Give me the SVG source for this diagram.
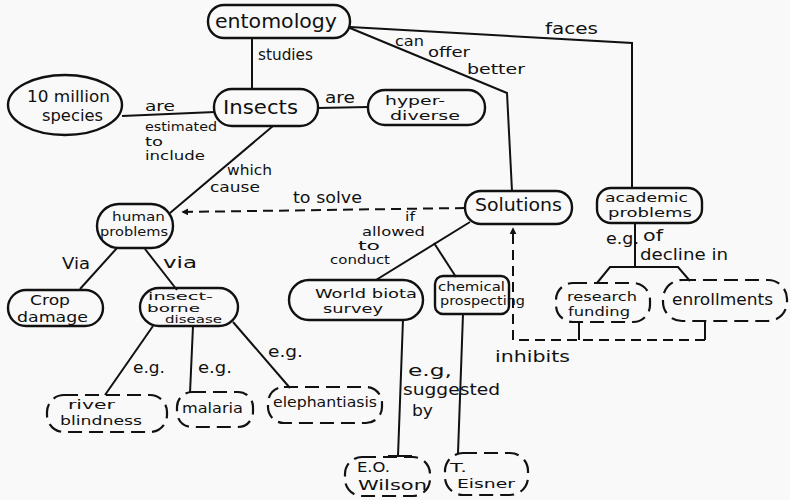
<svg xmlns="http://www.w3.org/2000/svg" width="790" height="500" viewBox="0 0 790 500">
  <defs>
    <marker id="arrow" viewBox="0 0 10 10" refX="9" refY="5" markerWidth="7" markerHeight="7" orient="auto" markerUnits="userSpaceOnUse">
      <path d="M0,0 L10,5 L0,10 Z" fill="#111"/>
    </marker>
    <style>
      .bg { fill: #f9f9f9; }
      .node { fill: none; stroke: #111; stroke-width: 2.4; }
      .dash { fill: none; stroke: #111; stroke-width: 2.2; stroke-dasharray: 14 7; }
      .link { fill: none; stroke: #111; stroke-width: 2; }
      .dlink { fill: none; stroke: #111; stroke-width: 2; stroke-dasharray: 10 6; }
      text { font-family: "DejaVu Sans", "Liberation Sans", sans-serif; fill: #111; }
      .t20 { font-size: 20px; }
      .t17 { font-size: 17px; }
      .t15 { font-size: 15px; }
      .t14 { font-size: 14px; }
      .t13 { font-size: 13px; }
      .t12 { font-size: 12px; }
      .t10 { font-size: 10px; }
      .lbl { font-size: 15px; }
    </style>
  </defs>

  <rect class="bg" x="0" y="0" width="790" height="500"/>

  <!-- connectors -->
  <g id="connectors">
    <path class="link" d="M252,38 L252,89"/>
    <path class="link" d="M122,116 L215,112"/>
    <path class="link" d="M318,108 L368,107"/>
    <path class="link" d="M273,126 L170,213"/>
    <path class="link" d="M350,28 L507,93 L512,191"/>
    <path class="link" d="M350,27 L632,43 L632,188"/>
    <path class="dlink" d="M465,208 L182,212" marker-end="url(#arrow)"/>
    <path class="link" d="M470,222 L376,280"/>
    <path class="link" d="M434,243 L456,277"/>
    <path class="link" d="M635,223 L635,267"/>
    <path class="link" d="M597,283 L610,267 L678,267 L690,281"/>
    <path class="link" d="M579,322 L579,340 M705,322 L705,340"/>
    <path class="dlink" d="M705,340 L513,340 L513,228" marker-end="url(#arrow)"/>
    <path class="link" d="M117,248 L80,289"/>
    <path class="link" d="M145,249 L177,290"/>
    <path class="link" d="M153,326 L105,395"/>
    <path class="link" d="M193,326 L190,393"/>
    <path class="link" d="M233,322 L290,388"/>
    <path class="link" d="M403,319 L398,456 M388,456 L412,456"/>
    <path class="link" d="M463,314 L458,453"/>
  </g>

  <!-- connector labels -->
  <g id="labels">
    <text class="lbl" x="258" y="60" textLength="55" lengthAdjust="spacingAndGlyphs">studies</text>
    <text class="t14" x="145" y="111" textLength="30" lengthAdjust="spacingAndGlyphs">are</text>
    <text class="t12" x="145" y="131" textLength="72" lengthAdjust="spacingAndGlyphs">estimated</text>
    <text class="t12" x="145" y="146" textLength="18" lengthAdjust="spacingAndGlyphs">to</text>
    <text class="t12" x="145" y="160" textLength="60" lengthAdjust="spacingAndGlyphs">include</text>
    <text class="lbl" x="325" y="103" textLength="30" lengthAdjust="spacingAndGlyphs">are</text>
    <text class="t14" x="227" y="175" textLength="45" lengthAdjust="spacingAndGlyphs">which</text>
    <text class="t14" x="210" y="192" textLength="50" lengthAdjust="spacingAndGlyphs">cause</text>
    <text class="t14" x="395" y="46" textLength="29" lengthAdjust="spacingAndGlyphs">can</text>
    <text class="t14" x="428" y="57" textLength="42" lengthAdjust="spacingAndGlyphs">offer</text>
    <text class="t14" x="467" y="74" textLength="58" lengthAdjust="spacingAndGlyphs">better</text>
    <text class="lbl" x="545" y="34" textLength="53" lengthAdjust="spacingAndGlyphs">faces</text>
    <text class="lbl" x="293" y="203" textLength="69" lengthAdjust="spacingAndGlyphs">to solve</text>
    <text class="t12" x="405" y="221" textLength="10" lengthAdjust="spacingAndGlyphs">if</text>
    <text class="t12" x="362" y="236" textLength="63" lengthAdjust="spacingAndGlyphs">allowed</text>
    <text class="t12" x="358" y="250" textLength="22" lengthAdjust="spacingAndGlyphs">to</text>
    <text class="t12" x="330" y="264" textLength="60" lengthAdjust="spacingAndGlyphs">conduct</text>
    <text class="lbl" x="606" y="244" textLength="33" lengthAdjust="spacingAndGlyphs">e.g.</text>
    <text class="lbl" x="643" y="241" textLength="20" lengthAdjust="spacingAndGlyphs">of</text>
    <text class="lbl" x="640" y="260" textLength="88" lengthAdjust="spacingAndGlyphs">decline in</text>
    <text class="lbl" x="495" y="362" textLength="75" lengthAdjust="spacingAndGlyphs">inhibits</text>
    <text class="lbl" x="62" y="269" textLength="28" lengthAdjust="spacingAndGlyphs">Via</text>
    <text class="lbl" x="163" y="268" textLength="34" lengthAdjust="spacingAndGlyphs">via</text>
    <text class="lbl" x="133" y="373" textLength="32" lengthAdjust="spacingAndGlyphs">e.g.</text>
    <text class="lbl" x="198" y="373" textLength="34" lengthAdjust="spacingAndGlyphs">e.g.</text>
    <text class="lbl" x="268" y="357" textLength="35" lengthAdjust="spacingAndGlyphs">e.g.</text>
    <text class="lbl" x="408" y="376" textLength="44" lengthAdjust="spacingAndGlyphs">e.g,</text>
    <text class="lbl" x="403" y="395" textLength="97" lengthAdjust="spacingAndGlyphs">suggested</text>
    <text class="lbl" x="412" y="416" textLength="21" lengthAdjust="spacingAndGlyphs">by</text>
  </g>

  <!-- concept nodes -->
  <g id="entomology">
    <rect class="node" x="208" y="5" width="142" height="33" rx="16"/>
    <text class="t20" x="215" y="28" textLength="122" lengthAdjust="spacingAndGlyphs">entomology</text>
  </g>
  <g id="ten-million-species">
    <ellipse class="node" cx="65" cy="105" rx="57" ry="30"/>
    <text class="t15" x="27" y="102" textLength="83" lengthAdjust="spacingAndGlyphs">10 million</text>
    <text class="t15" x="42" y="121" textLength="61" lengthAdjust="spacingAndGlyphs">species</text>
  </g>
  <g id="insects">
    <rect class="node" x="214" y="89" width="104" height="37" rx="18"/>
    <text class="t20" x="223" y="114" textLength="75" lengthAdjust="spacingAndGlyphs">Insects</text>
  </g>
  <g id="hyper-diverse">
    <rect class="node" x="368" y="90" width="117" height="35" rx="17"/>
    <text class="t13" x="385" y="105" textLength="60" lengthAdjust="spacingAndGlyphs">hyper-</text>
    <text class="t13" x="390" y="120" textLength="70" lengthAdjust="spacingAndGlyphs">diverse</text>
  </g>
  <g id="human-problems">
    <rect class="node" x="97" y="204" width="76" height="44" rx="22"/>
    <text class="t12" x="112" y="221" textLength="53" lengthAdjust="spacingAndGlyphs">human</text>
    <text class="t12" x="100" y="236" textLength="68" lengthAdjust="spacingAndGlyphs">problems</text>
  </g>
  <g id="crop-damage">
    <rect class="node" x="8" y="290" width="95" height="36" rx="18"/>
    <text class="t14" x="30" y="305" textLength="40" lengthAdjust="spacingAndGlyphs">Crop</text>
    <text class="t14" x="17" y="322" textLength="71" lengthAdjust="spacingAndGlyphs">damage</text>
  </g>
  <g id="insect-borne-disease">
    <rect class="node" x="140" y="288" width="98" height="38" rx="19"/>
    <text class="t10" x="148" y="300" textLength="65" lengthAdjust="spacingAndGlyphs">insect-</text>
    <text class="t10" x="147" y="312" textLength="53" lengthAdjust="spacingAndGlyphs">borne</text>
    <text class="t10" x="165" y="323" textLength="57" lengthAdjust="spacingAndGlyphs">disease</text>
  </g>
  <g id="solutions">
    <rect class="node" x="465" y="191" width="107" height="33" rx="16"/>
    <text class="t17" x="475" y="211" textLength="87" lengthAdjust="spacingAndGlyphs">Solutions</text>
  </g>
  <g id="academic-problems">
    <rect class="node" x="597" y="188" width="105" height="35" rx="14"/>
    <text class="t13" x="605" y="202" textLength="83" lengthAdjust="spacingAndGlyphs">academic</text>
    <text class="t13" x="608" y="217" textLength="84" lengthAdjust="spacingAndGlyphs">problems</text>
  </g>
  <g id="world-biota-survey">
    <rect class="node" x="289" y="280" width="134" height="40" rx="20"/>
    <text class="t13" x="315" y="298" textLength="102" lengthAdjust="spacingAndGlyphs">World biota</text>
    <text class="t13" x="323" y="313" textLength="60" lengthAdjust="spacingAndGlyphs">survey</text>
  </g>
  <g id="chemical-prospecting">
    <rect class="node" x="435" y="276" width="74" height="38" rx="8"/>
    <text class="t12" x="438" y="291" textLength="67" lengthAdjust="spacingAndGlyphs">chemical</text>
    <text class="t12" x="440" y="305" textLength="85" lengthAdjust="spacingAndGlyphs">prospecting</text>
  </g>
  <g id="research-funding">
    <rect class="dash" x="556" y="283" width="94" height="39" rx="17"/>
    <text class="t13" x="567" y="301" textLength="70" lengthAdjust="spacingAndGlyphs">research</text>
    <text class="t13" x="568" y="316" textLength="62" lengthAdjust="spacingAndGlyphs">funding</text>
  </g>
  <g id="enrollments">
    <rect class="dash" x="663" y="280" width="124" height="41" rx="19"/>
    <text class="t15" x="672" y="305" textLength="101" lengthAdjust="spacingAndGlyphs">enrollments</text>
  </g>
  <g id="river-blindness">
    <rect class="dash" x="47" y="395" width="120" height="37" rx="17"/>
    <text class="t13" x="68" y="409" textLength="47" lengthAdjust="spacingAndGlyphs">river</text>
    <text class="t13" x="60" y="425" textLength="82" lengthAdjust="spacingAndGlyphs">blindness</text>
  </g>
  <g id="malaria">
    <rect class="dash" x="177" y="392" width="76" height="35" rx="15"/>
    <text class="t14" x="182" y="413" textLength="61" lengthAdjust="spacingAndGlyphs">malaria</text>
  </g>
  <g id="elephantiasis">
    <rect class="dash" x="268" y="387" width="114" height="36" rx="16"/>
    <text class="t14" x="273" y="407" textLength="104" lengthAdjust="spacingAndGlyphs">elephantiasis</text>
  </g>
  <g id="eo-wilson">
    <rect class="dash" x="345" y="457" width="85" height="39" rx="17"/>
    <text class="t14" x="357" y="472" textLength="33" lengthAdjust="spacingAndGlyphs">E.O.</text>
    <text class="t14" x="358" y="490" textLength="69" lengthAdjust="spacingAndGlyphs">Wilson</text>
  </g>
  <g id="t-eisner">
    <rect class="dash" x="445" y="453" width="83" height="42" rx="18"/>
    <text class="t13" x="450" y="472" textLength="17" lengthAdjust="spacingAndGlyphs">T.</text>
    <text class="t13" x="457" y="488" textLength="58" lengthAdjust="spacingAndGlyphs">Eisner</text>
  </g>
</svg>
